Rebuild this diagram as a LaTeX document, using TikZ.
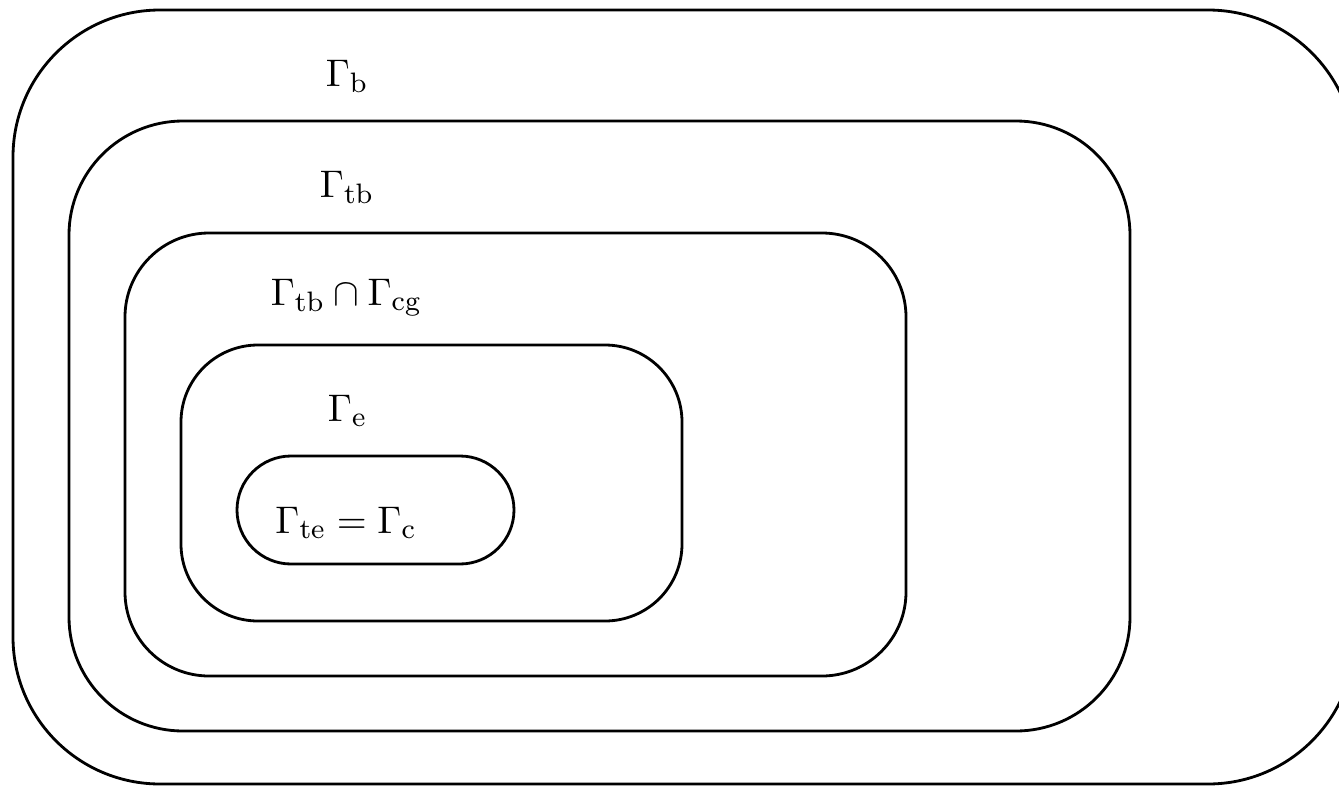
\documentclass[tikz,border=0pt,11pt]{standalone}
\usepackage{amsmath, amssymb}

\begin{document}
\begin{tikzpicture}[scale=1]
  \tikzset{setbox/.style={thick}, setlabel/.style={anchor=base}}
  \useasboundingbox (0,0) rectangle (13.39,7.87);
  \foreach \xa/\ya/\xb/\yb/\r in {0.13/0.03/13.55/7.77/1.47, 0.69/0.56/11.30/6.66/1.14,
      1.25/1.11/9.06/5.54/0.84, 1.81/1.66/6.82/4.42/0.77, 2.37/2.23/5.14/3.31/0.54} {
    \draw[setbox, rounded corners=\r cm] (\xa,\ya) rectangle (\xb,\yb);
  }
  \node[setlabel] (gb) at (3.47,7.01) {$\Gamma_{\mathrm{b}}$};
  \node[setlabel] (gtb) at (3.47,5.90) {$\Gamma_{\mathrm{tb}}$};
  \node[setlabel] (gcg) at (3.465,4.82) {$\Gamma_{\mathrm{tb}} \cap \Gamma_{\mathrm{cg}}$};
  \node[setlabel] (ge) at (3.475,3.66) {$\Gamma_{\mathrm{e}}$};
  \node[setlabel] (gte) at (3.46,2.54) {$\Gamma_{\mathrm{te}} = \Gamma_{\mathrm{c}}$};
\end{tikzpicture}
\end{document}
